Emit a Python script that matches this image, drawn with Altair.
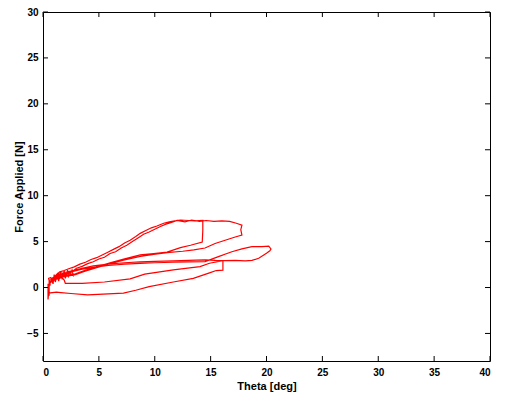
import altair as alt
import pandas as pd

# ---- data (theta in deg, force in N) ----
# start-up cluster near the origin
c0_theta = [0.45, 0.45, 0.55, 0.55, 0.65, 0.5, 0.7, 0.9, 1.0, 1.1, 1.3, 1.4, 1.6, 1.7, 1.9, 2.0, 2.2, 2.3, 2.6,
            2.7, 2.4, 1.8, 1.5, 1.2, 0.8, 0.5]
c0_force = [-1.25, 0.4, -0.9, 0.9, 0.2, 1.0, 1.1, 0.4, 1.4, 0.6, 1.6, 0.7, 1.7, 0.9, 1.8, 1.0, 1.9, 1.2, 1.9,
            1.3, 1.6, 1.3, 1.0, 0.9, 0.7, 0.3]

# cycle 1: loading along upper edge, reversal at ~14.3 deg, return
c1_theta = [0.5, 0.8, 1.2, 1.5, 1.9, 2.3, 2.8, 3.3, 3.8, 4.3, 4.8, 5.3, 5.8, 6.3, 6.8, 7.3, 7.8, 8.3, 8.7, 9.2,
            9.7, 10.2, 10.8, 11.3, 11.8, 12.3, 13.0, 13.6, 14.3, 14.3, 14.25, 13.2, 12.3, 11.1, 9.9, 8.7, 7.3,
            6.0, 4.65, 3.7, 2.9, 2.0, 1.3, 0.6]
c1_force = [0.3, 0.9, 1.4, 1.7, 1.85, 2.05, 2.25, 2.55, 2.75, 3.05, 3.25, 3.55, 3.85, 4.15, 4.45, 4.85, 5.15, 5.55, 5.9, 6.2,
            6.5, 6.7, 7.0, 7.15, 7.25, 7.35, 7.3, 7.25, 7.3, 6.2, 4.95, 4.6, 4.35, 3.85, 3.7, 3.55, 3.12,
            2.7, 2.2, 1.85, 1.5, 1.3, 1.1, 0.6]

# cycle 2: loading along upper edge, reversal at ~17.8 deg, return
c2_theta = [0.6, 1.0, 1.4, 2.0, 2.5, 3.0, 3.5, 4.0, 4.5, 5.0, 5.5, 6.0, 6.5, 7.0, 7.5, 8.0, 8.5, 9.0, 9.5, 10.0,
            10.5, 11.0, 11.5, 12.0, 12.7, 13.3, 14.0, 14.6, 15.3, 16.0, 16.7, 17.3, 17.8, 17.7, 17.8, 17.2,
            16.3, 15.4, 14.5, 13.5, 12.5, 11.1, 9.9, 8.7, 7.3, 6.0, 4.65, 3.7, 2.9, 2.0, 1.2, 0.7]
c2_force = [0.5, 1.0, 1.35, 1.5, 1.65, 2.1, 2.3, 2.6, 2.8, 3.1, 3.3, 3.7, 3.9, 4.3, 4.6, 5.0, 5.4, 5.8, 6.05, 6.35,
            6.65, 6.9, 7.1, 7.3, 7.15, 7.35, 7.2, 7.3, 7.2, 7.25, 7.2, 7.0, 6.8, 6.3, 5.7, 5.5,
            5.15, 4.8, 4.3, 4.1, 3.95, 3.8, 3.6, 3.4, 3.0, 2.6, 2.1, 1.75, 1.4, 1.2, 1.0, 0.8]

# cycle 3: loading along middle band, reversal at ~20.3 deg, return along same band
c3_theta = [0.7, 1.5, 2.5, 3.5, 4.5, 5.84, 7.3, 8.68, 10.0, 11.66, 13.0, 14.5, 15.7, 16.9, 17.8, 18.7, 19.6,
            20.2, 20.4, 20.3, 20.0, 19.3, 18.7, 18.1, 17.2, 16.3, 15.4, 14.5, 13.0, 11.66, 10.0, 8.68, 7.3,
            5.84, 4.5, 3.5, 2.5, 1.5, 0.8]
c3_force = [0.9, 1.3, 1.7, 2.0, 2.2, 2.4, 2.55, 2.64, 2.7, 2.75, 2.8, 2.83, 3.37, 3.9, 4.2, 4.46, 4.46,
            4.5, 4.2, 4.0, 3.73, 3.19, 2.95, 2.9, 2.95, 2.93, 2.95, 3.0, 2.95, 2.9, 2.85, 2.8, 2.7,
            2.55, 2.35, 2.1, 1.8, 1.5, 1.0]

# cycle 4: lower loop (out along the 0.5 N line, back along the bottom line)
c4_theta = [1.6, 1.9, 2.0, 3.5, 5.5, 7.8, 9.1, 11.66, 14.05, 14.9, 16.1, 16.1, 15.5, 14.9, 13.45, 11.66,
            9.5, 8.3, 7.2, 5.84, 4.0, 2.5, 1.6, 1.2, 0.5, 0.45, 0.45]
c4_force = [1.2, 0.8, 0.45, 0.45, 0.6, 0.95, 1.45, 1.92, 2.28, 2.64, 2.93, 1.9, 1.85, 1.6, 1.0, 0.6,
            0.1, -0.3, -0.6, -0.7, -0.8, -0.65, -0.55, -0.5, -0.6, -1.3, 0.2]

x_ticks = [0, 5, 10, 15, 20, 25, 30, 35, 40]
y_ticks = [-5, 0, 5, 10, 15, 20, 25, 30]

thetas = c0_theta + c1_theta + c2_theta + c3_theta + c4_theta
forces = c0_force + c1_force + c2_force + c3_force + c4_force
df = pd.DataFrame({"theta": thetas, "force": forces, "idx": list(range(len(thetas)))})

W, H = 447, 349
FONT = "Liberation Sans"
xscale = alt.Scale(domain=[0, 40], nice=False, zero=False)
yscale = alt.Scale(domain=[-8, 30], nice=False, zero=False)
xaxis = alt.Axis(values=x_ticks, title="Theta [deg]", ticks=False, domain=False, grid=False,
                 labelPadding=6, titlePadding=3, format="d")
yaxis = alt.Axis(values=y_ticks, title="Force Applied [N]", ticks=False, domain=False, grid=False,
                 labelPadding=5, titlePadding=2, format="d")

line = alt.Chart(df).mark_line(color="#ff0000", strokeWidth=1.2, strokeJoin="miter").encode(
    x=alt.X("theta:Q", scale=xscale, axis=xaxis),
    y=alt.Y("force:Q", scale=yscale, axis=yaxis),
    order=alt.Order("idx:Q"),
)

xt = pd.DataFrame({"theta": x_ticks})
yt = pd.DataFrame({"force": y_ticks})
tick_b = alt.Chart(xt).mark_rule(color="black", strokeWidth=1).encode(
    x=alt.X("theta:Q", scale=xscale, axis=xaxis), y=alt.value(H), y2=alt.value(H - 5))
tick_t = alt.Chart(xt).mark_rule(color="black", strokeWidth=1).encode(
    x=alt.X("theta:Q", scale=xscale, axis=xaxis), y=alt.value(0), y2=alt.value(5))
tick_l = alt.Chart(yt).mark_rule(color="black", strokeWidth=1).encode(
    y=alt.Y("force:Q", scale=yscale, axis=yaxis), x=alt.value(0), x2=alt.value(5))
tick_r = alt.Chart(yt).mark_rule(color="black", strokeWidth=1).encode(
    y=alt.Y("force:Q", scale=yscale, axis=yaxis), x=alt.value(W), x2=alt.value(W - 5))

chart = alt.layer(line, tick_b, tick_t, tick_l, tick_r).properties(
    width=W, height=H,
    padding={"left": 35, "top": 4, "right": 15, "bottom": 37},
    autosize="none",
    background="white",
).configure_view(
    stroke="black", strokeWidth=1
).configure_axis(
    labelFont=FONT, labelFontSize=10, labelFontWeight="bold", labelColor="black",
    titleFont=FONT, titleFontSize=11, titleFontWeight="bold", titleColor="black",
)

chart.save("out.html", embed_options={"renderer": "svg", "actions": False})
